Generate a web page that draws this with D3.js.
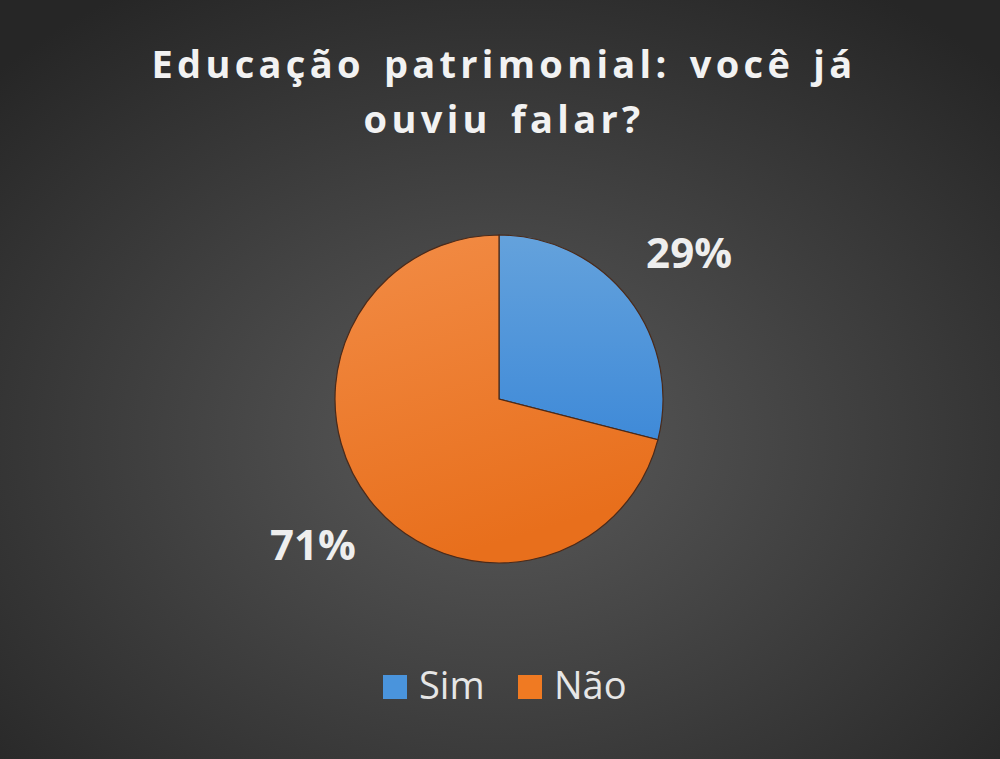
<!DOCTYPE html>
<html>
<head>
<meta charset="utf-8">
<script src="https://cdn.jsdelivr.net/npm/d3@7"></script>
<style>
  body { margin: 0; background: #2a2a2a; }
  svg { display: block; }
</style>
</head>
<body>
<div class="chart"></div>
<script>
// chart data
var categories = ['Sim', 'Não'];
var values = [29, 71];
var labels = ['29%', '71%'];
var titleLines = ['Educação patrimonial: você já', 'ouviu falar?'];

var svgWidth = 1000;
var svgHeight = 759;
var cx = 499;
var cy = 399;
var radius = 164;

var svg = d3.select('.chart').append('svg')
  .attr('width', svgWidth)
  .attr('height', svgHeight);

var defs = svg.append('defs');

// background gradient, lighter in the middle
var bg = defs.append('radialGradient')
  .attr('id', 'bg')
  .attr('cx', '50%').attr('cy', '58%').attr('r', '70%');
bg.append('stop').attr('offset', '0%').attr('stop-color', '#5a5a5a');
bg.append('stop').attr('offset', '100%').attr('stop-color', '#262626');

var blueGrad = defs.append('linearGradient')
  .attr('id', 'blueGrad').attr('x1', 0).attr('y1', 0).attr('x2', 0).attr('y2', 1);
blueGrad.append('stop').attr('offset', '0%').attr('stop-color', '#64a2dc');
blueGrad.append('stop').attr('offset', '100%').attr('stop-color', '#3f8ad8');

var orangeGrad = defs.append('linearGradient')
  .attr('id', 'orangeGrad').attr('x1', 0).attr('y1', 0).attr('x2', 0.3).attr('y2', 1);
orangeGrad.append('stop').attr('offset', '0%').attr('stop-color', '#f28c46');
orangeGrad.append('stop').attr('offset', '100%').attr('stop-color', '#e86f1c');

svg.append('rect')
  .attr('width', svgWidth)
  .attr('height', svgHeight)
  .attr('fill', 'url(#bg)');

var color = d3.scaleOrdinal()
  .domain(categories)
  .range(['url(#blueGrad)', 'url(#orangeGrad)']);

var legendColor = d3.scaleOrdinal()
  .domain(categories)
  .range(['#4a94dc', '#f07a22']);

// title
svg.append('g')
  .selectAll('text')
  .data(titleLines)
  .enter()
  .append('text')
  .attr('x', svgWidth / 2 + 4)
  .attr('y', function(d, i) { return 78 + i * 55; })
  .attr('text-anchor', 'middle')
  .style('font-family', '"Open Sans", sans-serif')
  .style('font-weight', 'bold')
  .style('font-size', '38px')
  .style('letter-spacing', '4.3px')
  .style('word-spacing', '5px')
  .attr('fill', '#f2f2f2')
  .text(function(d) { return d; });

// pie
var pie = d3.pie().sort(null).value(function(d) { return d; });
var arcs = pie(values);
var arc = d3.arc().innerRadius(0).outerRadius(radius);

var pieG = svg.append('g')
  .attr('transform', 'translate(' + cx + ',' + cy + ')');

pieG.selectAll('path')
  .data(arcs)
  .enter()
  .append('path')
  .attr('d', arc)
  .attr('fill', function(d, i) { return color(categories[i]); })
  .attr('stroke', '#4a2a1a')
  .attr('stroke-width', 1.2);

// data labels outside the pie
var labelArc = d3.arc().innerRadius(radius + 74).outerRadius(radius + 74);
pieG.selectAll('text')
  .data(arcs)
  .enter()
  .append('text')
  .attr('transform', function(d, i) {
    var c = labelArc.centroid(d);
    return 'translate(' + (c[0] + 2) + ',' + c[1] + ')';
  })
  .attr('dy', '0.36em')
  .attr('text-anchor', 'middle')
  .style('font-family', '"Open Sans", sans-serif')
  .style('font-weight', 'bold')
  .style('font-size', '42px')
  .attr('fill', '#eeeeee')
  .text(function(d, i) { return labels[i]; });

// legend
var legendX = [383, 518];
var legend = svg.append('g').attr('class', 'legend');
var items = legend.selectAll('g')
  .data(categories)
  .enter()
  .append('g')
  .attr('transform', function(d, i) { return 'translate(' + legendX[i] + ',675)'; });

items.append('rect')
  .attr('width', 24)
  .attr('height', 24)
  .attr('fill', function(d) { return legendColor(d); });

items.append('text')
  .attr('x', 36)
  .attr('y', 24)
  .style('font-family', '"Open Sans", sans-serif')
  .style('font-size', '38px')
  .attr('fill', '#e6e6e6')
  .text(function(d) { return d; });
</script>
</body>
</html>
